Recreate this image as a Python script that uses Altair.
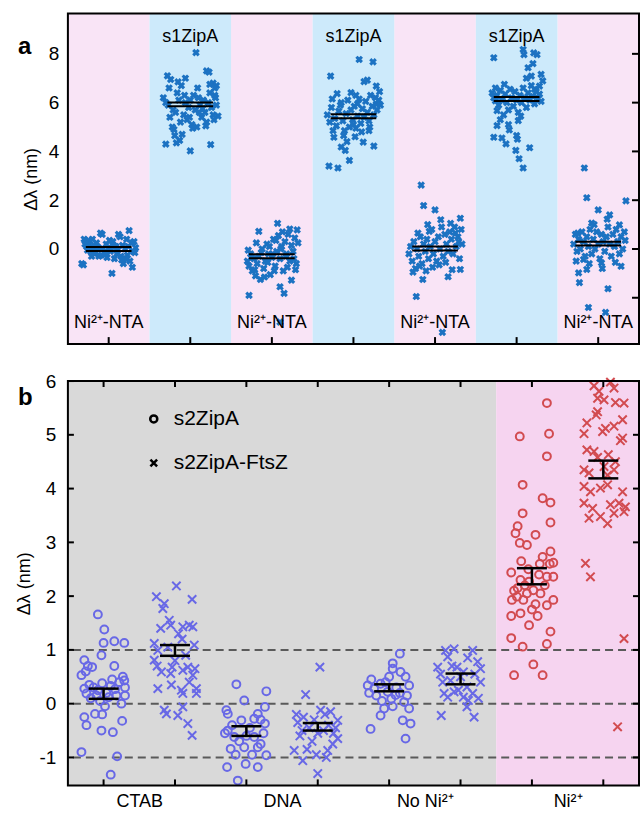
import altair as alt
import pandas as pd

FONT = "Liberation Sans"

# ---------------- Panel a data ----------------
A_LABELS = ["Ni²⁺-NTA", "s1ZipA", "Ni²⁺-NTA", "s1ZipA", "Ni²⁺-NTA", "s1ZipA", "Ni²⁺-NTA"]
A_KIND = ["nta", "zip", "nta", "zip", "nta", "zip", "nta"]
A_MEANS = [0.00, 5.93, -0.30, 5.44, 0.02, 6.15, 0.22]
A_HALF = [0.08, 0.08, 0.08, 0.08, 0.08, 0.08, 0.08]
A_YTICKS = [-2, 0, 2, 4, 6, 8]

# (jitter within band, value in nm)
A1 = [(-0.33,-0.60),(-0.31,-0.65),(-0.30,0.40),(-0.28,0.30),(-0.27,0.10),(-0.25,0.35),(-0.24,0.20),(-0.22,-0.10),(-0.20,0.40),(-0.19,0.00),
      (-0.17,-0.20),(-0.15,0.25),(-0.14,0.10),(-0.12,-0.30),(-0.10,0.65),(-0.08,0.60),(-0.07,0.00),(-0.05,-0.15),(-0.03,0.20),(-0.02,-0.35),
      (0.00,0.05),(0.02,-0.10),(0.04,-1.00),(0.05,0.30),(0.07,-0.40),(0.09,0.10),(0.10,-0.20),(0.12,0.60),(0.14,0.50),(0.15,-0.30),
      (0.17,0.15),(0.18,-0.60),(0.20,0.00),(0.22,0.40),(0.23,-0.25),(0.25,0.75),(0.26,-0.50),(0.28,0.25),(0.30,-0.10),(0.31,0.30),
      (0.33,0.05),(-0.26,-0.05),(-0.18,0.15),(-0.09,-0.25),(0.01,0.35),(0.11,-0.05),(0.21,-0.40),(0.29,-0.75),
      (-0.29,0.20),(-0.21,-0.30),(-0.13,0.05),(-0.04,-0.20),(0.06,0.15),(0.16,-0.45),(0.24,0.10),(0.32,-0.15)]
A2 = [(-0.30,4.30),(-0.17,4.35),(-0.13,4.45),(0.00,4.02),(0.25,4.28),(0.07,8.05),
      (-0.28,7.10),(-0.24,6.95),(-0.06,7.00),(-0.15,6.85),(0.20,7.30),(0.23,7.25),(0.28,6.80),(0.32,6.70),(0.24,6.75),(0.30,6.30),(0.31,6.20),(0.34,5.45),
      (-0.33,6.20),(-0.30,6.00),(-0.27,5.90),(-0.25,5.40),(-0.22,5.00),(-0.20,4.90),(-0.18,5.60),(-0.16,6.40),(-0.14,6.10),(-0.12,5.20),
      (-0.10,4.70),(-0.08,5.50),(-0.06,6.00),(-0.04,5.30),(-0.02,5.80),(0.00,6.10),(0.02,5.10),(0.04,6.30),(0.06,5.70),(0.08,5.00),
      (0.10,6.20),(0.12,5.90),(0.14,5.40),(0.16,6.10),(0.18,5.60),(0.20,5.20),(0.22,6.00),(0.24,6.40),(0.26,5.80),(0.28,5.50),
      (0.30,6.60),(0.32,5.90),(-0.26,6.60),(-0.21,5.70),(-0.11,6.70),(-0.01,5.40),(0.09,6.60),(0.19,5.05),(0.29,5.30),(-0.19,4.65),
      (0.03,4.95),(0.15,5.75),(-0.07,6.30),(0.11,5.60)]
A3 = [(-0.28,-1.90),(0.15,-1.82),(0.10,-1.55),(0.24,-1.28),(-0.16,0.72),(0.07,1.05),(0.22,0.82),(0.31,0.78),(0.10,-3.00),
      (-0.30,-0.50),(-0.28,-0.70),(-0.26,-0.20),(-0.24,-0.90),(-0.22,-0.40),(-0.20,-1.10),(-0.18,-0.60),(-0.16,-0.30),(-0.14,-1.25),
      (-0.12,0.00),(-0.10,-0.80),(-0.08,-0.50),(-0.06,0.20),(-0.04,-0.20),(-0.02,-1.05),(0.00,-0.35),(0.02,0.40),(0.04,-0.70),
      (0.06,-0.10),(0.08,0.55),(0.10,-0.40),(0.12,0.10),(0.14,-0.90),(0.16,0.30),(0.18,-0.20),(0.20,0.60),(0.22,-0.50),(0.24,0.15),
      (0.26,-0.10),(0.28,0.45),(0.30,-0.60),(0.32,0.25),(-0.29,-0.05),(-0.21,-0.85),(-0.13,-0.15),(-0.05,-0.55),(0.03,-0.90),
      (0.11,0.00),(0.19,-0.75),(0.27,-0.40),(-0.25,-0.35),(-0.09,-1.15),(0.05,0.35),(0.17,-0.30),(0.29,-0.85),(-0.19,0.25),
      (0.01,-0.20),(0.13,0.70),(-0.03,0.10)]
A4 = [(0.07,7.77),(0.24,7.67),(-0.28,7.09),(0.13,6.86),(0.17,6.92),(0.28,6.68),(0.32,6.45),(-0.20,6.37),(-0.03,6.41),(0.03,6.30),
      (-0.15,6.00),(0.28,5.94),(0.05,5.95),(-0.25,4.85),(-0.24,4.58),(-0.15,4.18),(-0.10,4.04),(-0.05,3.63),(-0.30,3.40),(-0.19,3.32),
      (0.25,4.22),(0.19,4.85),(0.12,4.38),(0.02,4.60),
      (-0.32,5.50),(-0.29,5.20),(-0.27,5.80),(-0.23,5.35),(-0.21,5.05),(-0.18,5.65),(-0.16,5.90),(-0.13,5.25),(-0.11,4.85),(-0.09,5.55),
      (-0.07,6.10),(-0.05,5.00),(-0.03,5.70),(-0.01,5.30),(0.01,5.85),(0.03,4.95),(0.05,5.45),(0.07,6.15),(0.09,5.15),(0.11,5.75),
      (0.13,5.40),(0.15,6.05),(0.17,5.60),(0.19,5.25),(0.21,6.30),(0.23,5.85),(0.25,5.50),(0.27,6.20),(0.29,5.70),(0.31,6.10),
      (0.33,5.90),(-0.26,6.15),(-0.12,4.65),(0.00,5.10),(0.10,4.80),(0.20,5.00),(-0.08,4.40)]
A5 = [(0.09,-3.42),(-0.23,-1.95),(-0.17,2.62),(-0.14,1.78),(0.00,1.60),(0.31,1.26),(0.31,-0.84),(0.16,-1.14),(-0.15,-1.25),(-0.07,0.72),
      (-0.32,-0.20),(-0.30,0.10),(-0.28,-0.50),(-0.26,0.30),(-0.24,-0.80),(-0.22,0.00),(-0.20,-0.30),(-0.18,0.50),(-0.16,-0.60),(-0.14,0.20),
      (-0.12,-0.10),(-0.10,0.40),(-0.08,-0.40),(-0.06,0.10),(-0.04,0.80),(-0.02,-0.20),(0.00,0.30),(0.02,-0.50),(0.04,0.50),(0.06,0.00),
      (0.08,0.90),(0.10,-0.30),(0.12,0.60),(0.14,0.20),(0.16,-0.10),(0.18,0.70),(0.20,0.40),(0.22,-0.20),(0.24,0.90),(0.26,0.10),
      (0.28,0.50),(0.30,-0.40),(0.32,0.80),(0.33,0.20),(-0.27,-0.95),(-0.19,-0.70),(-0.11,-0.90),(-0.03,-0.75),(0.05,-0.65),(0.13,-0.55),
      (0.21,-0.85),(0.29,0.30),(-0.21,0.65),(-0.09,1.00),(0.07,1.20),(0.19,1.05),(0.25,0.65)]
A6 = [(-0.28,7.84),(0.08,8.18),(0.09,7.97),(0.21,8.04),(0.25,7.97),(0.14,7.43),(0.18,7.09),(0.30,7.16),(0.32,6.89),(0.28,6.68),
      (0.22,6.55),(-0.28,4.58),(-0.18,4.55),(-0.13,4.31),(-0.24,5.06),(-0.09,4.88),(0.00,4.65),(0.01,4.50),(-0.01,4.04),(0.03,3.70),
      (0.08,3.32),(0.16,4.15),(0.02,5.26),(-0.24,5.67),(-0.26,6.07),
      (-0.30,6.40),(-0.28,6.20),(-0.26,6.60),(-0.24,6.30),(-0.22,5.90),(-0.20,6.50),(-0.18,6.10),(-0.16,5.50),(-0.14,6.35),(-0.12,6.00),
      (-0.10,5.70),(-0.08,6.55),(-0.06,6.20),(-0.04,5.85),(-0.02,6.45),(0.00,6.10),(0.02,5.60),(0.04,6.30),(0.06,6.00),(0.08,6.60),
      (0.10,6.20),(0.12,5.80),(0.14,6.40),(0.16,6.10),(0.18,6.70),(0.20,6.25),(0.22,5.95),(0.24,6.45),(0.26,6.15),(0.28,6.35),
      (0.30,6.05),(-0.20,5.30),(-0.10,5.10),(0.05,5.45),(-0.15,6.75),(0.12,7.00),(0.20,7.60)]
A7 = [(-0.17,3.32),(-0.14,2.10),(0.34,1.97),(-0.12,-2.40),(0.09,-2.60),(0.12,-1.63),(-0.23,-1.38),(0.00,1.60),(0.11,1.22),(0.14,1.40),
      (0.26,0.99),(-0.08,1.06),(-0.25,0.65),(-0.18,-0.43),(-0.14,-0.84),(-0.24,-0.98),(0.28,-0.71),(0.04,-0.57),
      (-0.30,0.20),(-0.28,0.60),(-0.26,-0.10),(-0.24,0.40),(-0.22,0.00),(-0.20,0.70),(-0.18,0.30),(-0.16,-0.30),(-0.14,0.50),(-0.12,0.10),
      (-0.10,0.80),(-0.08,-0.20),(-0.06,0.40),(-0.04,0.00),(-0.02,0.70),(0.00,0.20),(0.02,-0.40),(0.04,0.60),(0.06,0.30),(0.08,-0.10),
      (0.10,0.50),(0.12,0.90),(0.14,0.20),(0.16,-0.30),(0.18,0.60),(0.20,0.10),(0.22,0.80),(0.24,0.30),(0.26,-0.20),(0.28,0.50),
      (0.30,0.00),(0.32,0.70),(-0.27,-0.50),(-0.11,-0.60),(0.05,-0.80),(0.21,-0.55),(0.33,0.35),(-0.05,1.00)]
A_POINTS = [A1, A2, A3, A4, A5, A6, A7]

# ---------------- Panel b data ----------------
B_CATS = ["CTAB", "DNA", "No Ni²⁺", "Ni²⁺"]
B_SERIES = ["s2ZipA", "s2ZipA-FtsZ"]
B_MEAN = [0.18, 0.99, -0.51, -0.43, 0.30, 0.46, 2.37, 4.36]
B_LO = [0.09, 0.89, -0.60, -0.50, 0.23, 0.36, 2.22, 4.19]
B_HI = [0.28, 1.09, -0.42, -0.36, 0.36, 0.56, 2.52, 4.52]
B_YTICKS = [-1, 0, 1, 2, 3, 4, 5, 6]
B_REFS = [-1, 0, 1]

B1 = [(-0.08,1.66),(0.01,1.38),(0.00,1.13),(0.15,1.16),(0.29,1.13),(-0.27,0.81),(-0.03,0.90),(-0.22,0.70),(-0.16,0.68),(0.15,0.70),
      (-0.31,0.53),(0.27,0.50),(0.29,0.43),(-0.27,0.28),(-0.24,0.19),(-0.27,-0.25),(-0.24,-0.40),(-0.12,-0.19),(-0.03,-0.50),(0.13,-0.53),
      (0.26,-0.32),(-0.31,-0.90),(0.19,-0.98),(0.10,-1.32),
      (-0.20,0.35),(-0.14,0.30),(-0.08,0.25),(-0.02,0.38),(0.04,0.20),(0.10,0.33),(0.16,0.27),(0.22,0.40),(0.30,0.30),(-0.18,0.10),
      (-0.05,0.05),(0.07,0.12),(0.18,0.15),(0.25,0.00),(0.02,-0.05),(-0.10,0.15),(0.12,0.45),(-0.25,0.60),(0.30,0.15),(-0.02,-0.20)]
B2 = [(0.02,2.19),(-0.26,1.99),(-0.15,1.86),(-0.17,1.77),(0.24,1.94),(-0.08,1.55),(-0.06,1.46),(0.11,1.43),(0.20,1.46),(0.25,1.43),
      (-0.29,1.12),(-0.24,0.99),(0.27,1.09),(-0.29,0.81),(-0.19,0.59),(-0.06,0.56),(-0.04,0.68),(-0.24,0.28),(0.11,0.62),(0.18,0.68),
      (0.25,0.53),(0.09,0.25),(0.11,0.19),(0.30,0.28),(0.30,0.19),(-0.15,-0.12),(-0.12,-0.19),(0.04,-0.22),(0.11,-0.06),(0.18,-0.37),
      (0.24,-0.59),(-0.20,1.40),(0.05,1.30),(-0.10,1.05),(0.15,0.90),(0.00,0.80),(-0.25,0.70),(0.20,0.40),(-0.05,0.35),(0.28,0.65),(0.10,1.20)]
B3 = [(-0.14,0.36),(0.28,0.23),(-0.03,0.06),(-0.28,-0.12),(-0.26,-0.19),(0.26,-0.06),(0.16,-0.19),(0.11,-0.28),(0.26,-0.37),(-0.07,-0.31),
      (-0.26,-0.50),(-0.17,-0.62),(0.11,-0.62),(0.20,-0.75),(-0.22,-0.84),(-0.03,-0.81),(0.16,-0.81),(0.28,-0.96),(-0.01,-1.12),(0.16,-1.18),
      (-0.27,-1.18),(-0.12,-1.43),(-0.20,-0.40),(0.05,-0.45),(0.20,-0.30),(-0.10,-0.70),(0.08,-0.95),(-0.30,-0.55),(0.00,-0.60),(0.24,-0.55),
      (-0.15,-0.95)]
B4 = [(0.03,0.68),(-0.17,0.17),(0.00,-1.30),(-0.33,-0.87),(-0.21,-1.06),(0.04,-0.12),(0.28,-0.31),(0.28,-0.65),(0.14,-0.87),(0.21,-0.75),
      (-0.28,-0.35),(-0.20,-0.25),(-0.12,-0.45),(-0.05,-0.30),(0.08,-0.50),(0.15,-0.40),(-0.25,-0.60),(-0.08,-0.70),(0.10,-0.20),(0.22,-0.55),
      (-0.15,-0.85),(0.00,-0.55),(-0.30,-0.20),(0.12,-1.00),(-0.02,-0.95),(0.18,-0.15),(-0.22,-0.50),(0.25,-0.45)]
B5 = [(0.15,0.93),(0.05,0.75),(0.05,0.65),(0.16,0.59),(0.23,0.50),(0.28,0.34),(-0.30,0.34),(-0.21,0.28),(-0.12,0.37),(-0.02,0.22),
      (0.03,0.09),(0.09,0.16),(0.21,0.03),(-0.07,-0.09),(0.28,-0.09),(-0.12,-0.22),(-0.26,-0.47),(0.19,-0.31),(0.30,-0.37),(0.23,-0.65),
      (-0.25,0.45),(-0.05,0.40),(0.10,0.30),(-0.18,0.15),(0.00,0.50),(0.15,0.20),(-0.10,0.05),(0.25,0.15),(-0.28,0.20),(0.05,-0.05)]
B6 = [(-0.21,0.99),(-0.09,1.02),(0.17,0.99),(-0.18,0.87),(-0.32,0.68),(0.24,0.78),(0.28,0.65),(-0.05,0.68),(0.04,0.59),(-0.25,0.40),
      (-0.14,0.43),(-0.03,0.25),(0.09,0.31),(0.17,0.19),(0.28,0.40),(-0.23,0.19),(-0.18,0.12),(-0.09,0.22),(0.04,0.12),(0.11,0.06),
      (-0.27,-0.22),(0.09,-0.06),(0.19,-0.25),(0.00,0.50),(-0.12,0.70),(0.20,0.55),(0.10,0.85),(-0.28,0.55),(0.25,0.10)]
B7 = [(0.21,5.59),(-0.17,4.97),(0.24,5.02),(0.21,4.60),(-0.13,4.07),(0.15,3.82),(0.26,3.74),(-0.13,3.54),(0.26,3.37),(-0.20,3.30),
      (-0.23,3.17),(-0.17,2.99),(-0.07,2.95),(0.05,3.14),(0.26,2.83),(0.15,2.73),(0.30,2.62),(0.11,2.60),(-0.29,2.44),(-0.16,2.30),
      (-0.04,2.27),(0.21,2.36),(0.30,2.36),(-0.28,1.93),(-0.21,1.99),(-0.12,1.93),(-0.07,2.05),(0.02,2.11),(0.12,2.05),(0.21,1.83),
      (0.30,1.93),(-0.29,1.63),(-0.16,1.68),(-0.04,1.46),(0.08,1.63),(0.26,1.34),(-0.29,1.22),(-0.13,1.06),(0.21,1.11),(0.02,0.73),
      (0.15,0.53),(-0.25,0.53),(-0.05,2.50),(0.10,2.40),(-0.20,2.15),(0.05,1.85),(-0.10,2.20),(0.18,2.20),(-0.25,2.10),(0.00,1.75),
      (0.25,2.60),(-0.15,2.65)]
B8 = [(0.10,5.98),(-0.13,5.91),(-0.06,5.81),(-0.08,5.68),(0.01,5.65),(0.15,5.87),(0.17,5.60),(0.29,5.59),(-0.23,5.22),(-0.08,5.43),
      (-0.10,5.37),(0.27,5.28),(-0.27,5.02),(-0.01,5.06),(0.03,5.12),(0.15,5.16),(0.27,4.94),(0.24,4.89),(-0.23,4.72),(-0.13,4.69),
      (0.07,4.63),(-0.08,4.58),(-0.27,4.35),(-0.20,4.29),(0.01,4.41),(0.06,4.25),(0.15,4.35),(0.17,4.50),(-0.27,4.04),(-0.18,3.94),
      (-0.04,4.01),(0.06,4.07),(0.27,3.94),(-0.27,3.73),(-0.15,3.63),(0.10,3.70),(0.22,3.73),(0.31,3.66),(0.29,3.57),(-0.20,3.45),
      (-0.04,3.48),(0.06,3.35),(0.15,3.54),(-0.25,2.61),(-0.18,2.36),(0.29,1.21),(0.20,-0.43)]
B_POINTS = [B1, B2, B3, B4, B5, B6, B7, B8]

# ---------------- colours ----------------
A_PINK, A_BLUE, A_MARK = "#f9e4f6", "#cdeafb", "#1c72c2"
B_GRAY, B_PINK = "#d9d9d9", "#f6d4f0"
B_BLUECOL, B_REDCOL = "#6868e6", "#d24b50"
XPATH = "M-1,-1L1,1M-1,1L1,-1"

WA, HA = 572, 331
WB, HB = 572, 405

# ---------------- panel a ----------------
a_pts = pd.DataFrame([{"x": i + dx, "y": y} for i, g in enumerate(A_POINTS) for dx, y in g])
a_bands = pd.DataFrame({"pos": list(range(7)), "kind": A_KIND, "label": A_LABELS,
                        "mean": A_MEANS, "half": A_HALF})
a_ticks = pd.DataFrame({"v": A_YTICKS})
one = pd.DataFrame({"k": [0]})

xa = alt.Scale(domain=[-0.5, 6.5], nice=False, zero=False)
ya = alt.Scale(domain=[-3.9, 9.65], nice=False, zero=False)


def band_layer(kind, colour):
    return alt.Chart(a_bands).transform_filter(f"datum.kind == '{kind}'").transform_calculate(
        x0="datum.pos - 0.5", x1="datum.pos + 0.5").mark_rect(color=colour).encode(
        x=alt.X("x0:Q", scale=xa, axis=None), x2="x1:Q", y=alt.value(0), y2=alt.value(HA))


pts_a = alt.Chart(a_pts).mark_point(shape="cross", angle=45, filled=True, size=60, color=A_MARK, opacity=1).encode(
    x=alt.X("x:Q", scale=xa, axis=None),
    y=alt.Y("y:Q", scale=ya, title="Δλ (nm)",
            axis=alt.Axis(values=A_YTICKS, ticks=False, domain=False, grid=False, format="d",
                          labelExpr="datum.value < 0 ? '' : datum.label",
                          labelFontSize=19, labelPadding=9, titleFontSize=18,
                          titleFontWeight="normal", titlePadding=8)))

mean_base = alt.Chart(a_bands).transform_calculate(
    l="datum.pos - 0.28", r="datum.pos + 0.28",
    up="datum.mean + datum.half", dn="datum.mean - datum.half")
mean_up = mean_base.mark_rule(color="black", strokeWidth=2).encode(
    x=alt.X("l:Q", scale=xa), x2="r:Q", y=alt.Y("up:Q", scale=ya))
mean_dn = mean_base.mark_rule(color="black", strokeWidth=2).encode(
    x=alt.X("l:Q", scale=xa), x2="r:Q", y=alt.Y("dn:Q", scale=ya))

top_txt = alt.Chart(a_bands).transform_filter("datum.kind == 'zip'").mark_text(
    fontSize=18, font=FONT, color="black").encode(x=alt.X("pos:Q", scale=xa), y=alt.value(23), text="label:N")
bot_txt = alt.Chart(a_bands).transform_filter("datum.kind == 'nta'").mark_text(
    fontSize=18, font=FONT, color="black").encode(x=alt.X("pos:Q", scale=xa), y=alt.value(HA - 21), text="label:N")

btick_a = alt.Chart(a_bands).mark_rule(color="black", strokeWidth=2).encode(
    x=alt.X("pos:Q", scale=xa), y=alt.value(HA - 7), y2=alt.value(HA))
rtick_a = alt.Chart(a_ticks).mark_rule(color="black", strokeWidth=2).encode(
    y=alt.Y("v:Q", scale=ya), x=alt.value(WA - 7), x2=alt.value(WA))
frame_a = alt.Chart(one).mark_rect(fillOpacity=0, stroke="black", strokeWidth=2).encode(
    x=alt.value(0), x2=alt.value(WA), y=alt.value(0), y2=alt.value(HA))
lab_a = alt.Chart(one).mark_text(text="a", fontSize=24, fontWeight="bold", font=FONT, align="left").encode(
    x=alt.value(-50), y=alt.value(33))

panel_a = alt.layer(band_layer("nta", A_PINK), band_layer("zip", A_BLUE), pts_a, mean_up, mean_dn,
                    top_txt, bot_txt, btick_a, rtick_a, frame_a, lab_a).properties(width=WA, height=HA)

# ---------------- panel b ----------------
b_rows = []
for i, g in enumerate(B_POINTS):
    for dx, y in g:
        b_rows.append({"x": i + dx, "y": y, "series": B_SERIES[i % 2],
                       "tone": "ni" if B_CATS[i // 2] == "Ni²⁺" else "ctrl"})
b_pts = pd.DataFrame(b_rows)
b_stats = pd.DataFrame({"pos": list(range(8)), "mean": B_MEAN, "lo": B_LO, "hi": B_HI})
b_bg = pd.DataFrame({"x0": [-0.5, 5.5], "x1": [5.5, 7.5], "kind": ["ctrl", "ni"]})
b_yt = pd.DataFrame({"v": B_YTICKS})
b_refs = pd.DataFrame({"v": B_REFS})

xb = alt.Scale(domain=[-0.5, 7.5], nice=False, zero=False)
yb = alt.Scale(domain=[-1.52, 6], nice=False, zero=False)

label_expr = " : ".join(
    f"datum.value < {2 * k + 1} ? '{c}'" for k, c in enumerate(B_CATS[:-1])) + f" : '{B_CATS[-1]}'"

bg_ctrl = alt.Chart(b_bg).transform_filter("datum.kind == 'ctrl'").mark_rect(color=B_GRAY).encode(
    x=alt.X("x0:Q", scale=xb,
            axis=alt.Axis(values=[0.5, 2.5, 4.5, 6.5], labelExpr=label_expr, ticks=False, domain=False,
                          grid=False, labelFontSize=18, labelPadding=7, labelFlush=False),
            title=None),
    x2="x1:Q", y=alt.value(0), y2=alt.value(HB))
bg_ni = alt.Chart(b_bg).transform_filter("datum.kind == 'ni'").mark_rect(color=B_PINK).encode(
    x=alt.X("x0:Q", scale=xb), x2="x1:Q", y=alt.value(0), y2=alt.value(HB))

refs_b = alt.Chart(b_refs).mark_rule(color="#5a5a5a", strokeWidth=2, strokeDash=[8, 5]).encode(
    y=alt.Y("v:Q", scale=yb,
            axis=alt.Axis(values=B_YTICKS, ticks=False, domain=False, grid=False, format="d",
                          labelExpr="datum.value < 0 ? '-' + abs(datum.value) : datum.label",
                          labelFontSize=19, labelPadding=12, titleFontSize=18,
                          titleFontWeight="normal", titlePadding=6),
            title="Δλ (nm)"))


def pts_layer(series, tone, shape, size, colour):
    return alt.Chart(b_pts).transform_filter(
        f"datum.series == '{series}' && datum.tone == '{tone}'").mark_point(
        shape=shape, filled=False, size=size, strokeWidth=2, opacity=1, color=colour).encode(
        x=alt.X("x:Q", scale=xb), y=alt.Y("y:Q", scale=yb))


circ_c = pts_layer(B_SERIES[0], "ctrl", "circle", 62, B_BLUECOL)
circ_n = pts_layer(B_SERIES[0], "ni", "circle", 62, B_REDCOL)
cross_c = pts_layer(B_SERIES[1], "ctrl", XPATH, 70, B_BLUECOL)
cross_n = pts_layer(B_SERIES[1], "ni", XPATH, 70, B_REDCOL)

err_base = alt.Chart(b_stats).transform_calculate(l="datum.pos - 0.21", r="datum.pos + 0.21")
err_v = err_base.mark_rule(color="black", strokeWidth=2.5).encode(
    x=alt.X("pos:Q", scale=xb), y=alt.Y("lo:Q", scale=yb), y2="hi:Q")
err_lo = err_base.mark_rule(color="black", strokeWidth=2.5).encode(
    x=alt.X("l:Q", scale=xb), x2="r:Q", y=alt.Y("lo:Q", scale=yb))
err_hi = err_base.mark_rule(color="black", strokeWidth=2.5).encode(
    x=alt.X("l:Q", scale=xb), x2="r:Q", y=alt.Y("hi:Q", scale=yb))

ltick_b = alt.Chart(b_yt).mark_rule(color="black", strokeWidth=2).encode(
    y=alt.Y("v:Q", scale=yb), x=alt.value(0), x2=alt.value(6))
rtick_b = alt.Chart(b_yt).mark_rule(color="black", strokeWidth=2).encode(
    y=alt.Y("v:Q", scale=yb), x=alt.value(WB - 6), x2=alt.value(WB))
ttick_b = alt.Chart(b_stats).mark_rule(color="black", strokeWidth=2).encode(
    x=alt.X("pos:Q", scale=xb), y=alt.value(0), y2=alt.value(6))
btick_b = alt.Chart(b_stats).mark_rule(color="black", strokeWidth=2).encode(
    x=alt.X("pos:Q", scale=xb), y=alt.value(HB - 6), y2=alt.value(HB))
frame_b = alt.Chart(one).mark_rect(fillOpacity=0, stroke="black", strokeWidth=2).encode(
    x=alt.value(0), x2=alt.value(WB), y=alt.value(0), y2=alt.value(HB))

leg1_sym = alt.Chart(one).mark_point(shape="circle", filled=False, size=50, strokeWidth=2.5, color="black",
                                     opacity=1).encode(x=alt.value(86), y=alt.value(38))
leg2_sym = alt.Chart(one).mark_point(shape=XPATH, filled=False, size=45, strokeWidth=2.5, color="black",
                                     opacity=1).encode(x=alt.value(86), y=alt.value(82))
leg1_txt = alt.Chart(one).mark_text(text=B_SERIES[0], fontSize=21, font=FONT, align="left", color="black").encode(
    x=alt.value(106), y=alt.value(38))
leg2_txt = alt.Chart(one).mark_text(text=B_SERIES[1], fontSize=21, font=FONT, align="left", color="black").encode(
    x=alt.value(106), y=alt.value(82))
lab_b = alt.Chart(one).mark_text(text="b", fontSize=24, fontWeight="bold", font=FONT, align="left").encode(
    x=alt.value(-50), y=alt.value(17))

panel_b = alt.layer(bg_ctrl, bg_ni, refs_b, circ_c, circ_n, cross_c, cross_n, err_v, err_lo, err_hi,
                    ltick_b, rtick_b, ttick_b, btick_b, frame_b,
                    leg1_sym, leg2_sym, leg1_txt, leg2_txt, lab_b).properties(width=WB, height=HB)

chart = alt.vconcat(panel_a, panel_b, spacing=27).properties(
    padding={"left": 15, "top": 12, "right": 0, "bottom": 0},
    background="white"
).configure_view(stroke=None).configure_axis(
    labelFont=FONT, titleFont=FONT, labelColor="black", titleColor="black"
).configure_text(font=FONT)

chart.save("out.html", embed_options={"renderer": "svg", "actions": False})
